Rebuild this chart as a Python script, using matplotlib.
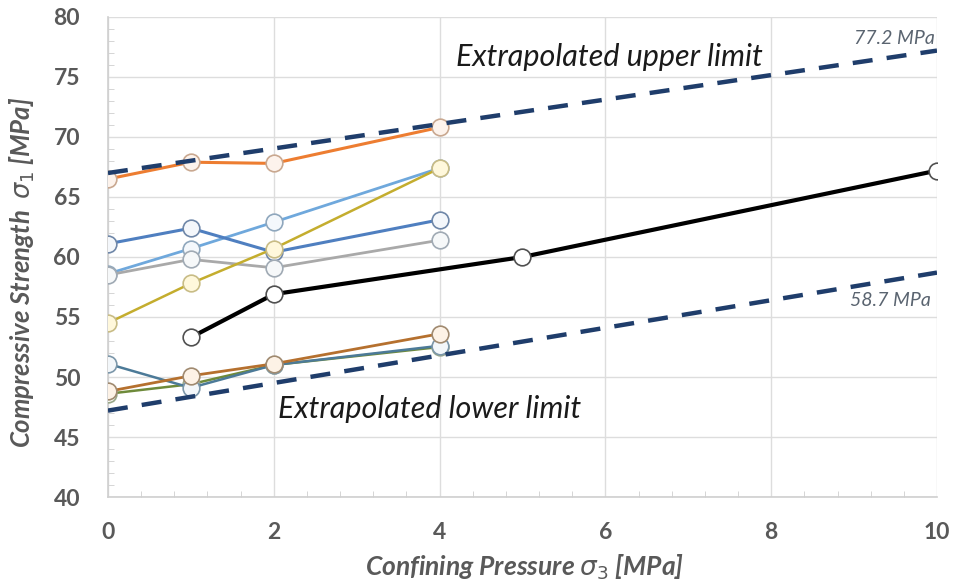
import matplotlib
matplotlib.use("Agg")
import matplotlib.pyplot as plt
from matplotlib.ticker import MultipleLocator

# confining pressure steps [MPa]
x_short = [0, 1, 2, 4]
x_black = [1, 2, 5, 10]

# compressive strength series [MPa]
s_orange = [66.5, 67.9, 67.8, 70.8]
s_lightblue = [58.6, 60.7, 62.9, 67.4]
s_blue = [61.1, 62.4, 60.4, 63.1]
s_gray = [58.5, 59.8, 59.1, 61.4]
s_yellow = [54.5, 57.8, 60.7, 67.4]
s_black = [53.3, 56.9, 60.0, 67.2]
s_steel = [51.1, 49.1, 51.0, 52.6]
s_brown = [48.8, 50.1, 51.1, 53.6]
s_green = [48.6, 49.4, 51.0, 52.5]

# extrapolated limits
lim_x = [0, 10]
upper_lim = [67.0, 77.2]
lower_lim = [47.2, 58.7]

plt.rcParams['font.family'] = ['Lato', 'DejaVu Sans']
plt.rcParams['mathtext.fontset'] = 'dejavusans'

fig = plt.figure(figsize=(9.63, 5.8), dpi=100)
ax = fig.add_axes([0.1121, 0.1431, 0.8609, 0.8276])

series = [
    (x_short, s_orange, '#ED7D31', '#FDF3EC', '#C9A890', 2.2),
    (x_short, s_lightblue, '#6FA8DC', '#F4F8FC', '#8FA7BD', 2.0),
    (x_short, s_blue, '#4F7FC0', '#F4F7FB', '#6F87A8', 2.2),
    (x_short, s_gray, '#A9A9A9', '#F6F8F9', '#A0AAB4', 2.0),
    (x_short, s_yellow, '#C4AD2E', '#FFF8DC', '#C8BC86', 1.8),
    (x_short, s_green, '#6E8A3A', '#F6F8F1', '#9AA88A', 1.8),
    (x_short, s_steel, '#4C7A98', '#F3F7FA', '#7C97AA', 1.8),
    (x_short, s_brown, '#B5702E', '#FDF2E6', '#A08A70', 2.0),
    (x_black, s_black, '#000000', '#FFFFFF', '#505050', 3.0),
]
for xs, ys, col, fill, edge, lw in series:
    ax.plot(xs, ys, color=col, lw=lw, marker='o', ms=12,
            mfc=fill, mec=edge, mew=1.2, zorder=3)

ax.plot(lim_x, upper_lim, color='#1F3D6B', lw=3.2, dashes=(4.5, 3.2), zorder=4)
ax.plot(lim_x, lower_lim, color='#1F3D6B', lw=3.2, dashes=(4.5, 3.2), zorder=4)

ax.text(4.2, 76.7, 'Extrapolated upper limit', fontsize=22, style='italic',
        color='#1a1a1a', va='center', ha='left')
ax.text(2.05, 47.3, 'Extrapolated lower limit', fontsize=22, style='italic',
        color='#1a1a1a', va='center', ha='left')
ax.text(9.97, 78.2, '77.2 MPa', fontsize=14, style='italic', color='#5A6470',
        va='center', ha='right')
ax.text(9.93, 56.4, '58.7 MPa', fontsize=14, style='italic', color='#5A6470',
        va='center', ha='right')

ax.set_xlim(0, 10)
ax.set_ylim(40, 80)
ax.xaxis.set_major_locator(MultipleLocator(2))
ax.xaxis.set_minor_locator(MultipleLocator(0.4))
ax.yaxis.set_major_locator(MultipleLocator(5))
ax.yaxis.set_minor_locator(MultipleLocator(1))
ax.grid(True, which='major', color='#DDDDDD', lw=1.0, zorder=0)
ax.set_axisbelow(True)

for side in ['top', 'right']:
    ax.spines[side].set_visible(False)
for side in ['left', 'bottom']:
    ax.spines[side].set_color('#CFCFCF')
    ax.spines[side].set_linewidth(1.2)

ax.tick_params(axis='both', which='major', length=0, labelsize=16.5,
               labelcolor='#595959')
ax.tick_params(axis='x', which='major', pad=18)
ax.tick_params(axis='y', which='major', pad=20)
ax.tick_params(axis='both', which='minor', direction='in', length=4,
               color='#CFCFCF')
for lab in ax.get_xticklabels() + ax.get_yticklabels():
    lab.set_fontweight('bold')

ax.set_xlabel(r'Confining Pressure $\sigma_3$ [MPa]', fontsize=19,
              fontweight='bold', style='italic', color='#595959')
ax.set_ylabel(r'Compressive Strength  $\sigma_1$ [MPa]', fontsize=18.5,
              fontweight='bold', style='italic', color='#595959')
ax.xaxis.set_label_coords(0.503, -0.115)
ax.yaxis.set_label_coords(-0.086, 0.467)

fig.savefig('out.png', dpi=100)
